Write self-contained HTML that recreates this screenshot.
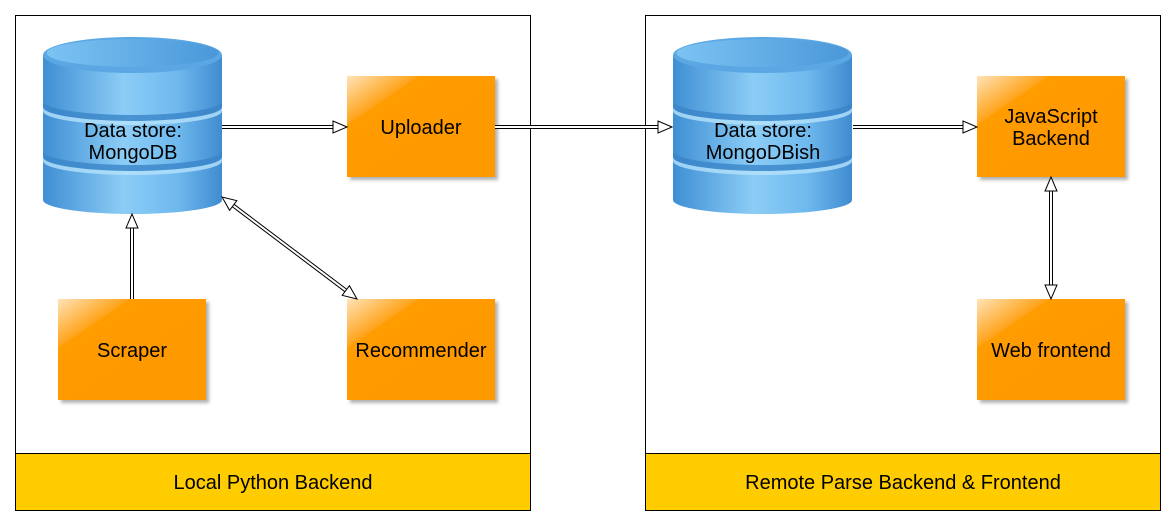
<!DOCTYPE html>
<html><head><meta charset="utf-8"><style>
html,body{margin:0;padding:0;background:#fff;}
svg{display:block;font-family:"Liberation Sans",Arial,sans-serif;}
</style></head><body>
<svg width="1176" height="526" viewBox="0 0 1176 526" xmlns="http://www.w3.org/2000/svg">
<defs>
<linearGradient id="cyl" x1="0" x2="1" y1="0" y2="0">
<stop offset="0" stop-color="#3f8fd4"/><stop offset="0.45" stop-color="#8ccdf6"/><stop offset="0.75" stop-color="#6fb9ee"/><stop offset="1" stop-color="#3f8bd0"/>
</linearGradient>
<linearGradient id="cyltop" x1="0" x2="1" y1="0" y2="0">
<stop offset="0" stop-color="#7cc3f3"/><stop offset="1" stop-color="#4a98d9"/>
</linearGradient>
<linearGradient id="box" x1="0" y1="0" x2="0.6" y2="0.6">
<stop offset="0" stop-color="#ffe3b8"/><stop offset="0.4" stop-color="#ffa31a"/><stop offset="0.41" stop-color="#ff9c00"/><stop offset="1" stop-color="#ff9900"/>
</linearGradient>
<filter id="sh" x="-10%" y="-10%" width="130%" height="130%"><feDropShadow dx="3" dy="3" stdDeviation="1.5" flood-color="#000" flood-opacity="0.3"/></filter>
<g id="cy">
<path d="M0,18 L0,163 A89.5,14 0 0 0 179,163 L179,18 Z" fill="url(#cyl)"/>
<path d="M0,64 A89.5,14 0 0 0 179,64 L179,70 A89.5,14 0 0 1 0,70 Z" fill="#3a85c8" opacity="0.8"/>
<path d="M0,114 A89.5,14 0 0 0 179,114 L179,120 A89.5,14 0 0 1 0,120 Z" fill="#3a85c8" opacity="0.8"/>
<path d="M0,70 A89.5,14 0 0 0 179,70 L179,74 A89.5,14 0 0 1 0,74 Z" fill="#b5e2fb" opacity="0.8"/>
<path d="M0,120 A89.5,14 0 0 0 179,120 L179,124 A89.5,14 0 0 1 0,124 Z" fill="#b5e2fb" opacity="0.8"/>
<ellipse cx="89.5" cy="18" rx="89.5" ry="18" fill="#5aa7e3"/>
<ellipse cx="89.5" cy="16" rx="86" ry="14" fill="url(#cyltop)"/>
</g>
</defs>

<rect x="15.5" y="15.5" width="515" height="495" fill="#fff" stroke="#000"/>
<rect x="15.5" y="453.5" width="515" height="57" fill="#ffcc00" stroke="#000"/>
<text x="273" y="489" font-size="20" text-anchor="middle">Local Python Backend</text>
<rect x="645.5" y="15.5" width="515" height="495" fill="#fff" stroke="#000"/>
<rect x="645.5" y="453.5" width="515" height="57" fill="#ffcc00" stroke="#000"/>
<text x="903" y="489" font-size="20" text-anchor="middle">Remote Parse Backend &amp; Frontend</text>

<use href="#cy" x="43" y="37"/>
<use href="#cy" x="673" y="37"/>
<text x="133" y="137" font-size="20" text-anchor="middle">Data store:</text>
<text x="133" y="159" font-size="20" text-anchor="middle">MongoDB</text>
<text x="763" y="137" font-size="20" text-anchor="middle">Data store:</text>
<text x="763" y="159" font-size="20" text-anchor="middle">MongoDBish</text>

<g filter="url(#sh)">
<rect x="347" y="76" width="148" height="101" fill="url(#box)"/>
<rect x="58" y="299" width="148" height="101" fill="url(#box)"/>
<rect x="347" y="299" width="148" height="101" fill="url(#box)"/>
<rect x="977" y="76" width="148" height="101" fill="url(#box)"/>
<rect x="977" y="299" width="148" height="101" fill="url(#box)"/>
</g>
<g font-size="20" text-anchor="middle">
<text x="421" y="134">Uploader</text>
<text x="132" y="357">Scraper</text>
<text x="421" y="357">Recommender</text>
<text x="1051" y="123">JavaScript</text>
<text x="1051" y="145">Backend</text>
<text x="1051" y="357">Web frontend</text>
</g>

<g fill="none" stroke="#000" stroke-width="4">
<path d="M222,127H333 M495,127H658 M853,127H963 M132,228V299 M233.2,205.5L345.8,290.5 M1051,191V285"/>
</g>
<g fill="none" stroke="#fff" stroke-width="2">
<path d="M222,127H334 M495,127H659 M853,127H964 M132,227V299 M232.4,204.9L346.6,291.1 M1051,190V286"/>
</g>
<g fill="#fff" stroke="#000" stroke-width="1">
<polygon points="347,127 333,121 333,133"/>
<polygon points="672,127 658,121 658,133"/>
<polygon points="977,127 963,121 963,133"/>
<polygon points="132,214 126,228 138,228"/>
<polygon points="357,299 342.2,295.3 349.4,285.7"/>
<polygon points="222,197 229.6,210.3 236.8,200.7"/>
<polygon points="1051,177 1045,191 1057,191"/>
<polygon points="1051,299 1045,285 1057,285"/>
</g>
</svg>
</body></html>
